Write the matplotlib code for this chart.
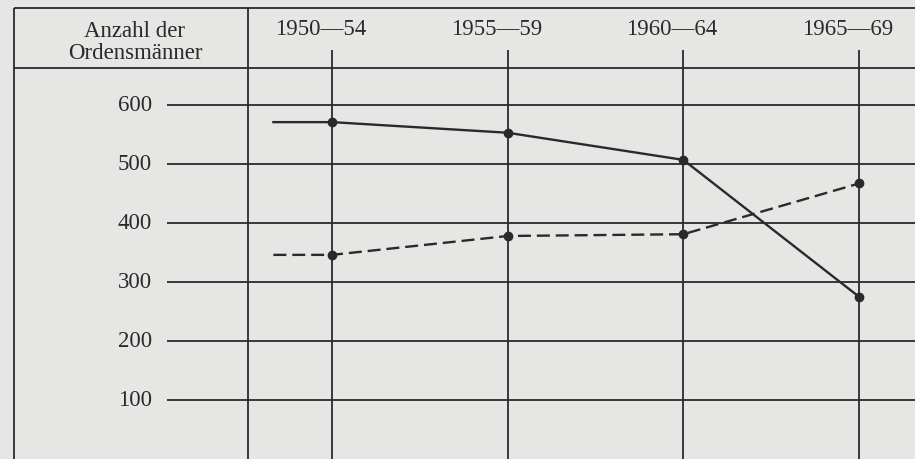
#!/usr/bin/env python3

import matplotlib
matplotlib.use('Agg')
import matplotlib.pyplot as plt
import matplotlib.transforms as mtransforms

# Anzahl der Ordensmaenner je Fuenfjahreszeitraum
periods = ["1950—54", "1955—59", "1960—64", "1965—69"]
series_solid = [571, 553, 507, 275]
series_dashed = [346, 378, 381, 467]
y_ticks = [100, 200, 300, 400, 500, 600]
header_label = ["Anzahl der", "Ordensmänner"]


def plot(out_file="out.png"):
	paper, ink = "#e6e6e4", "#2a2a2a"
	font = "Liberation Serif"
	fontsize = 16.5

	fig = plt.figure(figsize=(9.15, 4.59), dpi=100, facecolor=paper)
	ax = fig.add_axes([0, 0, 1, 1])
	ax.set_facecolor(paper)
	ax.set_axis_off()

	# category index 0 sits at x=332px, steps of ~176px
	step = 175.7
	ax.set_xlim(-332 / step, 3 + (915 - 859) / step)
	ax.set_ylim(0, 778)

	xaxes_ydata = mtransforms.blended_transform_factory(ax.transAxes, ax.transData)
	xdata_yaxes = mtransforms.blended_transform_factory(ax.transData, ax.transAxes)

	# table frame
	frame_kw = dict(color=ink, lw=1.3, solid_capstyle='butt')
	ax.plot([0.0153, 1], [0.983, 0.983], transform=ax.transAxes, **frame_kw)
	ax.plot([0.0153, 1], [0.852, 0.852], transform=ax.transAxes, **frame_kw)
	ax.plot([0.0153, 0.0153], [0, 0.983], transform=ax.transAxes, **frame_kw)
	ax.plot([0.271, 0.271], [0, 0.983], transform=ax.transAxes, **frame_kw)

	# horizontal value lines
	for v in y_ticks:
		ax.plot([0.1825, 1], [v, v], transform=xaxes_ydata, **frame_kw)
		ax.text(0.166, v, str(v), transform=xaxes_ydata, ha='right', va='center',
			fontsize=fontsize, family=font, color=ink)

	# vertical period lines
	for i, label in enumerate(periods):
		ax.plot([i, i], [0, 0.891], transform=xdata_yaxes, **frame_kw)
		ax.text(i - 0.065, 0.935, label, transform=xdata_yaxes, ha='center', va='center',
			fontsize=fontsize, family=font, color=ink)

	ax.text(0.1475, 0.932, header_label[0], transform=ax.transAxes, ha='center', va='center',
		fontsize=fontsize, family=font, color=ink)
	ax.text(0.1475, 0.884, header_label[1], transform=ax.transAxes, ha='center', va='center',
		fontsize=fontsize, family=font, color=ink)

	# both series start with a short flat lead-in before the first period
	xs = list(range(len(periods)))
	lead = -1 / 3
	ax.plot([lead] + xs, [series_solid[0]] + series_solid, color=ink, lw=1.7, zorder=3)
	ax.plot(xs, series_solid, 'o', color=ink, ms=6, zorder=4)
	ax.plot([lead] + xs, [series_dashed[0]] + series_dashed, color=ink, lw=1.7,
		dashes=(5.5, 2.5), zorder=3)
	ax.plot(xs, series_dashed, 'o', color=ink, ms=6, zorder=4)

	plt.savefig(out_file, dpi=100, facecolor=paper)
	plt.close()


if __name__ == "__main__":
	plot()
